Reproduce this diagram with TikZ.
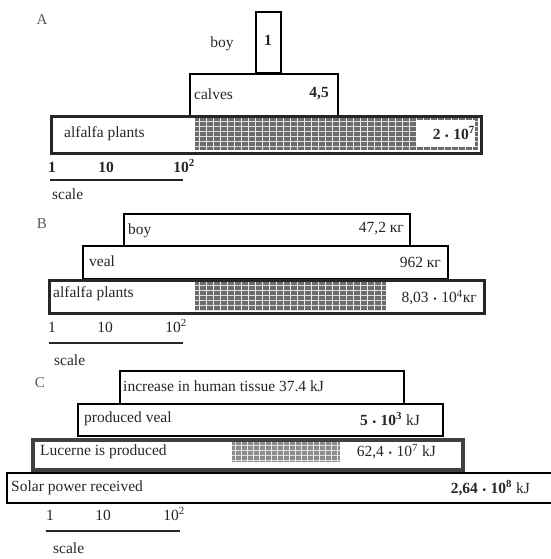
\documentclass[tikz,border=0pt]{standalone}
\usepackage{fontspec}
\setmainfont{Liberation Serif}
\newcommand{\mdot}{\hspace{0.3em}{\fontsize{10}{10}\selectfont\textbullet}\hspace{0.3em}}
\begin{document}
\begin{tikzpicture}[x=1pt,y=-1pt,
  box/.style={draw, line width=1.6pt, anchor=north west, inner sep=0pt, fill=white},
  thickbox/.style={draw=black!85, line width=3pt, anchor=north west, inner sep=0pt},
  lbl/.style={font=\fontsize{15.5}{17}\selectfont, inner sep=0pt, text=black!85},
  num/.style={font=\fontsize{15.5}{17}\selectfont\bfseries, inner sep=0pt, text=black!85},
  panel/.style={font=\fontsize{15}{17}\selectfont, inner sep=0pt, text=black!65},
  vline/.style={white!85!gray, line width=0.7pt},
  hline/.style={white!75!gray, line width=0.5pt},
  scaleline/.style={line width=1.4pt, black!85}
]
\useasboundingbox (0,0) rectangle (550,559);

% ---------------- Panel A ----------------
\node[panel] (Alab) at (42,20) {A};
\node[box, minimum width=25pt, minimum height=61pt] (aBoy) at (255,11) {};
\node[lbl] (aBoyT) at (222,44) {boy};
\node[num] (aBoyN) at (268,40) {1};
\node[box, minimum width=148pt, minimum height=42pt] (aCalves) at (189,73) {};
\node[lbl, anchor=west] (aCalvesT) at (194,94) {calves};
\node[num, anchor=east] (aCalvesN) at (329,94) {4,5};
\fill[black!58] (195,117) rectangle (478,150);
\foreach \x in {199,206,...,478} \draw[vline] (\x,117) -- (\x,150);
\foreach \y in {121,126,...,150} \draw[hline] (195,\y) -- (478,\y);
\node[thickbox, minimum width=430pt, minimum height=37pt] (aAlf) at (50,115) {};
\fill[white] (416,120) rectangle (475,147);
\node[lbl, anchor=west] (aAlfT) at (64,134) {alfalfa plants};
\node[num, anchor=east] (aAlfN) at (475,133) {2\mdot 10\textsuperscript{7}};
\node[num] (aS1) at (52,167) {1};
\node[num] (aS2) at (106,167) {10};
\node[num] (aS3) at (184,166) {10\textsuperscript{2}};
\coordinate (aL1) at (50,180);
\coordinate (aL2) at (183,180);
\draw[scaleline] (aL1) -- (aL2);
\node[lbl, anchor=west] (aScale) at (52,194) {scale};

% ---------------- Panel B ----------------
\node[panel] (Blab) at (42,224) {B};
\node[box, minimum width=286pt, minimum height=32pt] (bBoy) at (123,213) {};
\node[lbl, anchor=west] (bBoyT) at (128,231) {boy};
\node[lbl, anchor=east] (bBoyN) at (404,229) {47,2 кг};
\node[box, minimum width=365pt, minimum height=33pt] (bVeal) at (82,245) {};
\node[lbl, anchor=west] (bVealT) at (89,261) {veal};
\node[lbl, anchor=east] (bVealN) at (441,262) {962 кг};
\fill[black!58] (195,281) rectangle (386,311);
\foreach \x in {199,206,...,386} \draw[vline] (\x,281) -- (\x,311);
\foreach \y in {285,290,...,311} \draw[hline] (195,\y) -- (386,\y);
\node[thickbox, minimum width=435pt, minimum height=33pt] (bAlf) at (48,279) {};
\node[lbl, anchor=west] (bAlfT) at (53,294) {alfalfa plants};
\node[lbl, anchor=east] (bAlfN) at (477,298) {8,03\mdot 10\textsuperscript{4}кг};
\node[lbl] (bS1) at (52,327) {1};
\node[lbl] (bS2) at (105,327) {10};
\node[lbl] (bS3) at (176,326) {10\textsuperscript{2}};
\coordinate (bL1) at (49,343);
\coordinate (bL2) at (183,343);
\draw[scaleline] (bL1) -- (bL2);
\node[lbl, anchor=west] (bScale) at (54,360) {scale};

% ---------------- Panel C ----------------
\node[panel] (Clab) at (40,383) {C};
\node[box, minimum width=284pt, minimum height=33pt] (cInc) at (119,370) {};
\node[lbl, anchor=west] (cIncT) at (123,386) {increase in human tissue 37.4 kJ};
\node[box, minimum width=365pt, minimum height=32pt] (cVeal) at (77,403) {};
\node[lbl, anchor=west] (cVealT) at (84,419) {produced veal};
\node[lbl, anchor=east] (cVealN) at (420,419) {\bfseries 5\mdot 10\textsuperscript{3} \mdseries kJ};
\fill[black!45] (232,441) rectangle (340,462);
\foreach \x in {235,241,...,340} \draw[vline] (\x,441) -- (\x,462);
\foreach \y in {445,450,...,462} \draw[hline] (232,\y) -- (340,\y);
\node[draw=black!75, line width=4pt, anchor=north west, inner sep=0pt, minimum width=430pt, minimum height=30pt] (cLuc) at (31,438) {};
\node[lbl, anchor=west] (cLucT) at (40,452) {Lucerne is produced};
\node[lbl, anchor=east] (cLucN) at (436,452) {62,4\mdot 10\textsuperscript{7} kJ};
\node[box, minimum width=560pt, minimum height=30pt] (cSol) at (6,472) {};
\node[lbl, anchor=west] (cSolT) at (11,488) {Solar power received};
\node[lbl, anchor=east] (cSolN) at (530,488) {\bfseries 2,64\mdot 10\textsuperscript{8} \mdseries kJ};
\node[lbl] (cS1) at (50,515) {1};
\node[lbl] (cS2) at (103,515) {10};
\node[lbl] (cS3) at (174,514) {10\textsuperscript{2}};
\coordinate (cL1) at (46,531);
\coordinate (cL2) at (180,531);
\draw[scaleline] (cL1) -- (cL2);
\node[lbl, anchor=west] (cScale) at (53,548) {scale};
\end{tikzpicture}
\end{document}
